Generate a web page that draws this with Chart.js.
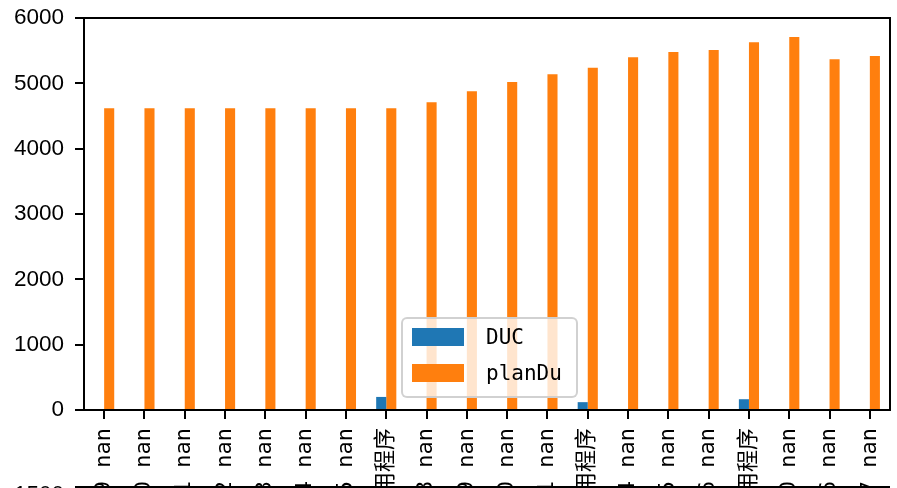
<!DOCTYPE html>
<html>
<head>
<meta charset="utf-8">
<script src="https://cdn.jsdelivr.net/npm/chart.js@4.4.1/dist/chart.umd.min.js"></script>
<style>
    html, body { margin: 0; padding: 0; background: #fff; overflow: hidden; }
    #wrap { position: relative; width: 897px; height: 488px; }
    #legend {
        position: absolute; left: 401px; top: 317px; width: 173px; height: 77px;
        border: 2px solid rgba(204, 204, 204, 0.9); border-radius: 6px;
        background: rgba(255, 255, 255, 0.8);
        font: 21px "DejaVu Sans Mono", "Noto Sans CJK SC", monospace; color: #000;
    }
    #legend .row { position: absolute; left: 9px; height: 20px; display: flex; align-items: center; }
    #legend .sw { width: 52px; height: 18px; margin-right: 22px; }
</style>
</head>
<body>
<div id="wrap">
    <canvas id="chart"></canvas>
    <div id="legend"></div>
</div>
<script>
    // Datos
    const categorias = [
        '2009 nan', '2010 nan', '2011 nan', '2012 nan', '2013 nan', '2014 nan', '2015 nan',
        '应用程序', '2018 nan', '2019 nan', '2020 nan', '2021 nan', '应用程序',
        '2014 nan', '2015 nan', '2016 nan', '应用程序', '2020 nan', '2016 nan', '2017 nan'
    ];
    const valoresDUC = [null, null, null, null, null, null, null, 200, null, null,
        null, null, 120, null, null, null, 165, null, null, null];
    const valoresPlanDu = [4620, 4620, 4620, 4620, 4620, 4620, 4620, 4620, 4710, 4880,
        5020, 5140, 5240, 5400, 5480, 5510, 5630, 5710, 5370, 5420];
    const ticksY = [0, 1000, 2000, 3000, 4000, 5000, 6000];

    const AZUL = '#1f77b4';
    const NARANJA = '#ff7f0e';
    const monoFont = '"DejaVu Sans Mono", "Noto Sans CJK SC", monospace';

    // Marco completo del area (spines de matplotlib) + resto del subplot de abajo
    const marco = {
        id: 'marco',
        afterDraw(chart) {
            const { ctx, chartArea: a } = chart;
            ctx.save();
            ctx.strokeStyle = '#000';
            ctx.lineWidth = 2;
            ctx.strokeRect(a.left, a.top, a.right - a.left, a.bottom - a.top);
            // subplot inferior que asoma por abajo
            ctx.beginPath();
            ctx.moveTo(a.left, 487);
            ctx.lineTo(a.right, 487);
            ctx.moveTo(a.left - 9, 487);
            ctx.lineTo(a.left, 487);
            ctx.stroke();
            ctx.fillStyle = '#000';
            ctx.font = '22.5px "Liberation Sans", sans-serif';
            ctx.textAlign = 'right';
            ctx.textBaseline = 'middle';
            ctx.fillText('1500', a.left - 20, 495);
            ctx.restore();
        }
    };

    function makeLegend() {
        const el = document.getElementById('legend');
        [['DUC', AZUL, 8], ['planDu', NARANJA, 44]].forEach(([txt, col, top]) => {
            const row = document.createElement('div');
            row.className = 'row';
            row.style.top = top + 'px';
            row.innerHTML = `<span class="sw" style="background:${col}"></span><span>${txt}</span>`;
            el.appendChild(row);
        });
    }

    function makeChart() {
        const ctx = document.getElementById('chart');
        return new Chart(ctx, {
            type: 'bar',
            data: {
                labels: categorias,
                datasets: [
                    { label: 'DUC', data: valoresDUC, backgroundColor: AZUL,
                      categoryPercentage: 0.5, barPercentage: 1.0 },
                    { label: 'planDu', data: valoresPlanDu, backgroundColor: NARANJA,
                      categoryPercentage: 0.5, barPercentage: 1.0 }
                ]
            },
            options: {
                responsive: true,
                maintainAspectRatio: false,
                animation: false,
                layout: { padding: { top: 18, right: 7, left: 0, bottom: 0 } },
                plugins: {
                    legend: { display: false },
                    tooltip: { enabled: false }
                },
                scales: {
                    x: {
                        offset: true,
                        grid: { offset: false, drawOnChartArea: false, drawTicks: true,
                                tickLength: 9, color: '#000', lineWidth: 2 },
                        border: { color: '#000', width: 2 },
                        ticks: {
                            autoSkip: false, minRotation: 90, maxRotation: 90,
                            padding: 9, color: '#000',
                            font: { family: monoFont, size: 22 }
                        },
                        afterFit(scale) {
                            scale.height = 78;
                            scale.paddingLeft = 0;
                            scale.paddingRight = 0;
                        }
                    },
                    y: {
                        min: 0, max: 6000,
                        afterBuildTicks(scale) { scale.ticks = ticksY.map(v => ({ value: v })); },
                        grid: { drawOnChartArea: false, drawTicks: true,
                                tickLength: 9, color: '#000', lineWidth: 2 },
                        border: { color: '#000', width: 2 },
                        ticks: {
                            padding: 11, color: '#000',
                            callback: v => String(v),
                            font: { family: '"Liberation Sans", sans-serif', size: 22.5 }
                        },
                        afterFit(scale) {
                            scale.width = 84;
                            scale.paddingTop = 0;
                            scale.paddingBottom = 0;
                        }
                    }
                }
            },
            plugins: [marco]
        });
    }

    makeLegend();
    makeChart();
</script>
</body>
</html>
